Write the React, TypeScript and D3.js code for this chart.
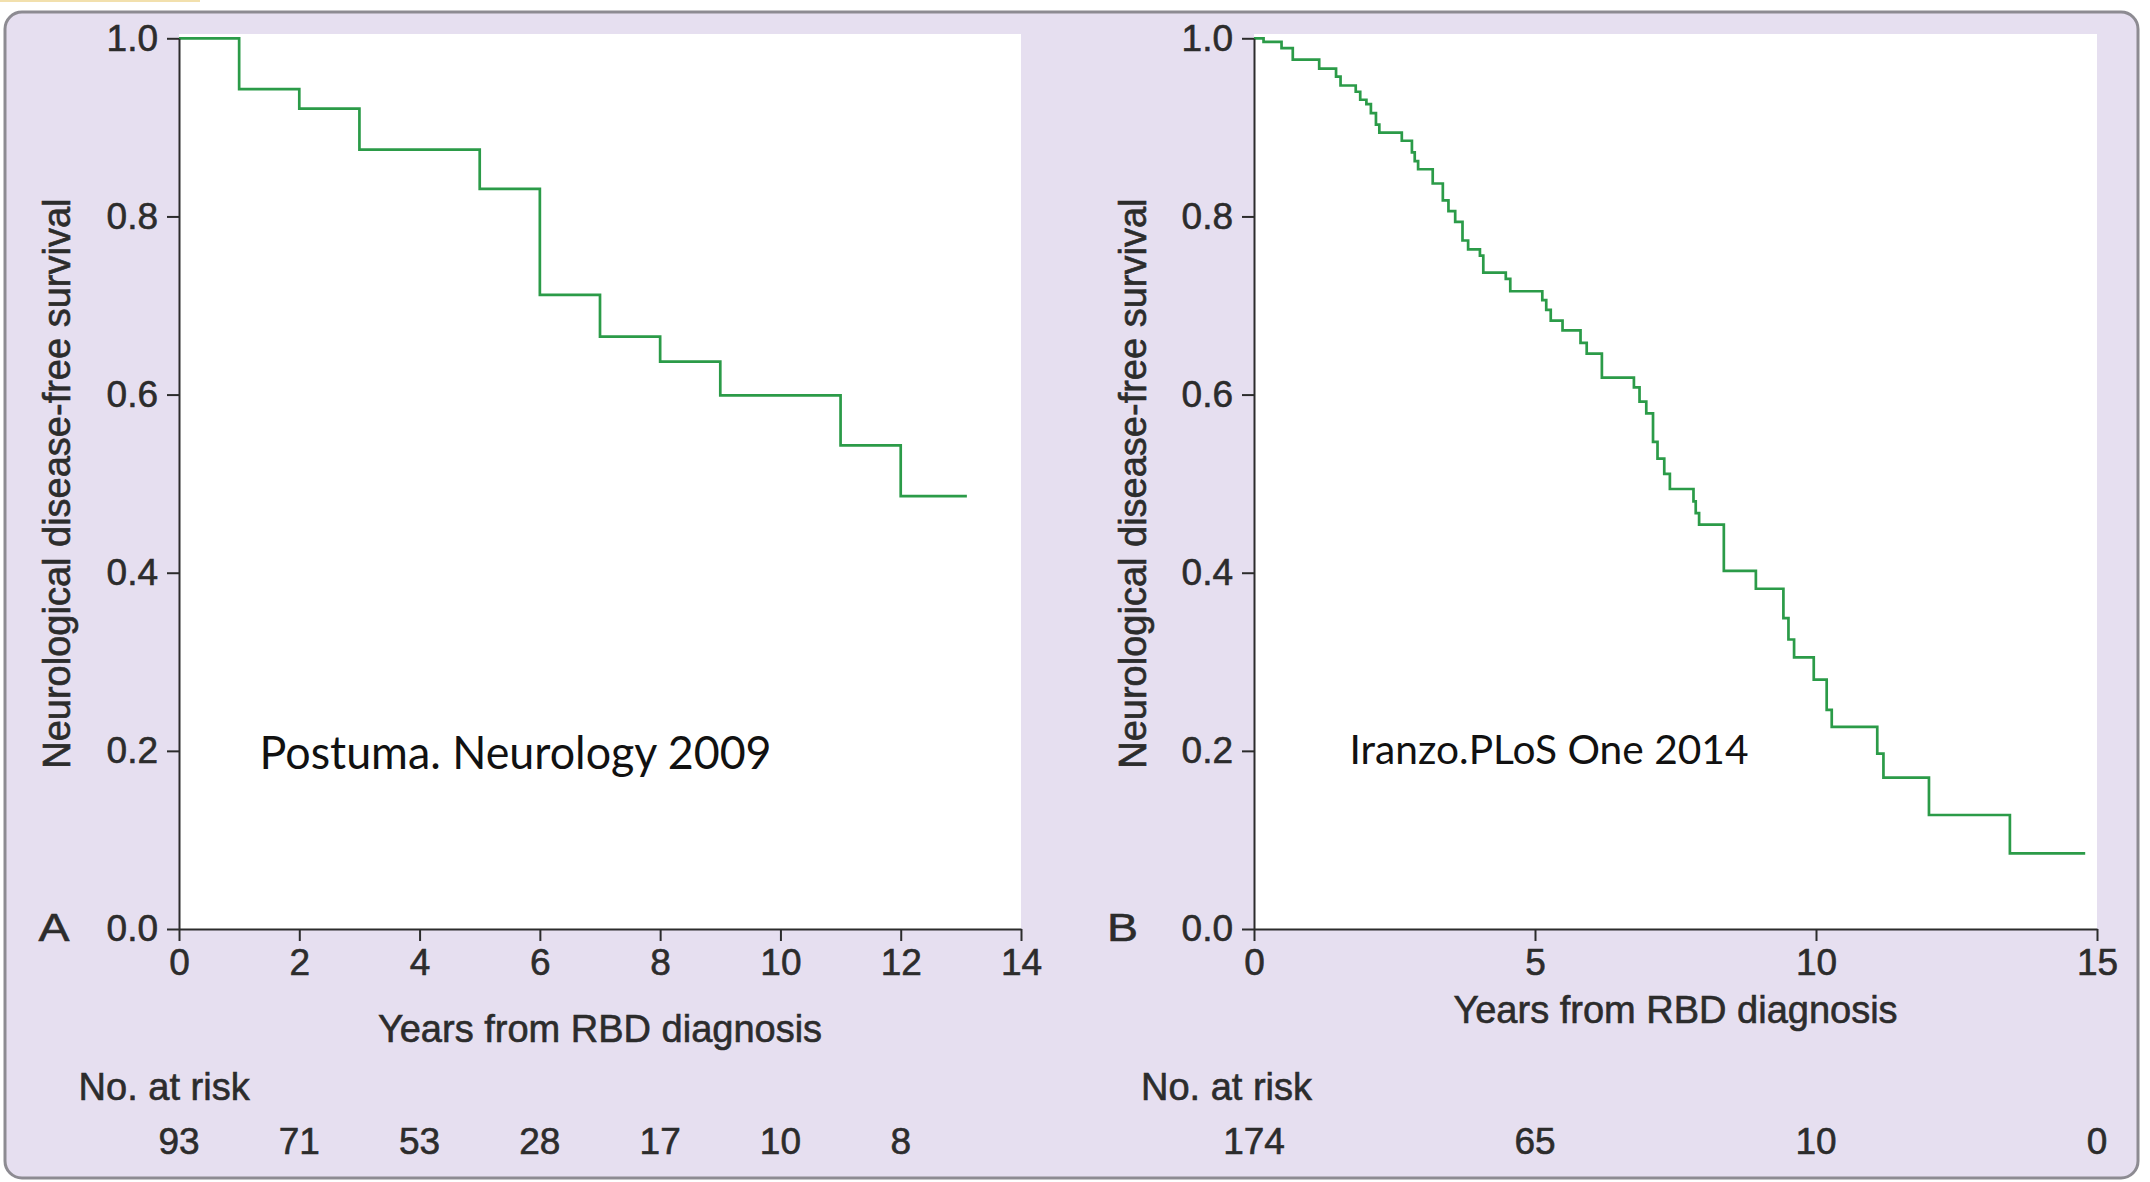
import React, { useEffect, useRef } from 'react';
import * as d3 from 'd3';

// --- values ---
// panel A (Postuma, Neurology 2009)
const LEFT_TIMES = [0, 1, 2, 3, 5, 6, 7, 8, 9, 11, 12];
const LEFT_SURVIVAL = [1.0, 0.943, 0.921, 0.875, 0.831, 0.712, 0.665, 0.637, 0.599, 0.543, 0.486];
const LEFT_END = 13.1;
const LEFT_X_TICKS = [0, 2, 4, 6, 8, 10, 12, 14];
const LEFT_RISK_AT = [0, 2, 4, 6, 8, 10, 12];
const LEFT_RISK = [93, 71, 53, 28, 17, 10, 8];

// panel B (Iranzo, PLoS One 2014)
const RIGHT_TIMES = [
  0, 0.17, 0.49, 0.69, 1.16, 1.46, 1.54, 1.81, 1.89, 2.0, 2.08, 2.17, 2.23, 2.63, 2.81, 2.86, 2.92,
  3.18, 3.36, 3.46, 3.58, 3.71, 3.81, 4.02, 4.08, 4.48, 4.56, 5.13, 5.2, 5.28, 5.49, 5.81, 5.92,
  6.19, 6.76, 6.86, 6.98, 7.1, 7.18, 7.3, 7.4, 7.82, 7.86, 7.92, 8.36, 8.93, 9.42, 9.51, 9.61,
  9.96, 10.19, 10.28, 11.09, 11.2, 12.01, 13.45,
];
const RIGHT_SURVIVAL = [
  1.0, 0.996, 0.989, 0.976, 0.966, 0.957, 0.947, 0.94, 0.931, 0.926, 0.916, 0.903, 0.894, 0.885,
  0.872, 0.862, 0.853, 0.837, 0.818, 0.806, 0.794, 0.773, 0.763, 0.756, 0.737, 0.73, 0.716, 0.706,
  0.695, 0.683, 0.672, 0.658, 0.646, 0.619, 0.608, 0.592, 0.579, 0.547, 0.528, 0.511, 0.494, 0.48,
  0.467, 0.454, 0.402, 0.382, 0.349, 0.325, 0.305, 0.28, 0.246, 0.227, 0.197, 0.17, 0.128, 0.085,
];
const RIGHT_END = 14.79;
const RIGHT_X_TICKS = [0, 5, 10, 15];
const RIGHT_RISK_AT = [0, 5, 10, 15];
const RIGHT_RISK = [174, 65, 10, 0];

const Y_TICKS = [0, 0.2, 0.4, 0.6, 0.8, 1.0];

const Y_TITLE = 'Neurological disease-free survival';
const X_TITLE = 'Years from RBD diagnosis';
const RISK_TITLE = 'No. at risk';

const FONT = '"Liberation Sans", Arial, Helvetica, sans-serif';
const NOTE_FONT = 'Lato, "Open Sans", sans-serif';
const TEXT = '#2c2c2c';
const GREEN = '#2b9b48';

const W = 2150;
const H = 1182;
const PLOT_TOP = 38.3; // y of 1.0
const PLOT_BOTTOM = 929; // y of 0.0

const panels = [
  {
    letter: 'A', times: LEFT_TIMES, surv: LEFT_SURVIVAL, end: LEFT_END, xMax: 14, xTicks: LEFT_X_TICKS,
    riskAt: LEFT_RISK_AT, risk: LEFT_RISK, left: 179, right: 1021,
    yTitleX: 70, letterX: 38.6, xTitleY: 1042, riskTitleX: 78.6,
    note: 'Postuma. Neurology 2009', noteX: 259.6, noteY: 769, noteSize: 46, noteWidth: 512,
  },
  {
    letter: 'B', times: RIGHT_TIMES, surv: RIGHT_SURVIVAL, end: RIGHT_END, xMax: 15, xTicks: RIGHT_X_TICKS,
    riskAt: RIGHT_RISK_AT, risk: RIGHT_RISK, left: 1254, right: 2097,
    yTitleX: 1146, letterX: 1107, xTitleY: 1023, riskTitleX: 1141,
    note: 'Iranzo.PLoS One 2014', noteX: 1349.5, noteY: 764, noteSize: 40, noteWidth: 399,
  },
];

const App = () => {
  const svgRef = useRef(null);

  useEffect(() => {
    document.body.style.margin = '0';
    if (!svgRef.current) return;
    const svg = d3.select(svgRef.current);
    svg.selectAll('*').remove();

    // page background + the rounded lavender card
    svg.append('rect').attr('width', W).attr('height', H).attr('fill', '#fff');
    svg.append('rect').attr('x', 0).attr('y', 0).attr('width', 200).attr('height', 2).attr('fill', '#f2e0ad');
    svg.append('rect')
      .attr('x', 5).attr('y', 12).attr('width', 2133).attr('height', 1166).attr('rx', 17)
      .attr('fill', '#e6dff0').attr('stroke', '#8d8b92').attr('stroke-width', 3);

    // slightly heavier glyphs, like the printed figure
    const heavy = (sel: any) => sel.attr('fill', TEXT).attr('stroke', TEXT).attr('stroke-width', 0.6);

    panels.forEach((p: any) => {
      const x = d3.scaleLinear().domain([0, p.xMax]).range([p.left, p.right]);
      const y = d3.scaleLinear().domain([0, 1]).range([PLOT_BOTTOM, PLOT_TOP]);

      // white plot area
      svg.append('rect')
        .attr('x', x(0)).attr('y', 34).attr('width', x(p.xMax) - x(0)).attr('height', PLOT_BOTTOM - 34)
        .attr('fill', '#fff');

      // survival curve
      const pts: [number, number][] = p.times.map((t: number, i: number) => [t, p.surv[i]]);
      pts.push([p.end, p.surv[p.surv.length - 1]]);
      const line = d3.line<[number, number]>().x(d => x(d[0])).y(d => y(d[1])).curve(d3.curveStepAfter);
      svg.append('path').attr('d', line(pts)).attr('fill', 'none').attr('stroke', GREEN)
        .attr('stroke-width', 2.7).attr('stroke-linejoin', 'miter');

      // axes
      const gx = svg.append('g').attr('transform', `translate(0,${y(0)})`)
        .call(d3.axisBottom(x).tickValues(p.xTicks).tickSize(12).tickSizeOuter(0).tickPadding(8).tickFormat(d3.format('d')));
      const gy = svg.append('g').attr('transform', `translate(${x(0)},0)`)
        .call(d3.axisLeft(y).tickValues(Y_TICKS).tickSize(12).tickSizeOuter(0).tickPadding(9).tickFormat(d3.format('.1f')));
      [gx, gy].forEach(g => {
        g.attr('font-family', FONT).attr('font-size', 37);
        g.select('.domain').attr('stroke', TEXT).attr('stroke-width', 2);
        g.selectAll('line').attr('stroke', TEXT).attr('stroke-width', 2);
        heavy(g.selectAll('text'));
      });

      // titles
      heavy(svg.append('text')
        .attr('transform', `translate(${p.yTitleX},${(PLOT_TOP + PLOT_BOTTOM) / 2}) rotate(-90)`)
        .attr('text-anchor', 'middle').attr('font-family', FONT).attr('font-size', 38))
        .text(Y_TITLE);
      heavy(svg.append('text')
        .attr('x', (x(0) + x(p.xMax)) / 2).attr('y', p.xTitleY)
        .attr('text-anchor', 'middle').attr('font-family', FONT).attr('font-size', 38))
        .text(X_TITLE);
      heavy(svg.append('text')
        .attr('x', p.letterX).attr('y', 941).attr('font-family', FONT).attr('font-size', 38)
        .attr('textLength', 31).attr('lengthAdjust', 'spacingAndGlyphs'))
        .text(p.letter);

      // number at risk
      heavy(svg.append('text')
        .attr('x', p.riskTitleX).attr('y', 1100).attr('font-family', FONT).attr('font-size', 38))
        .text(RISK_TITLE);
      heavy(svg.append('g').selectAll('text').data(p.risk).enter().append('text')
        .attr('x', (d: number, i: number) => x(p.riskAt[i])).attr('y', 1154)
        .attr('text-anchor', 'middle').attr('font-family', FONT).attr('font-size', 37))
        .text((d: number) => d);

      // source note
      svg.append('text')
        .attr('x', p.noteX).attr('y', p.noteY).attr('font-family', NOTE_FONT).attr('font-size', p.noteSize)
        .attr('textLength', p.noteWidth).attr('lengthAdjust', 'spacingAndGlyphs').attr('fill', '#111')
        .text(p.note);
    });
  }, []);

  return (
    <svg ref={svgRef} width={W} height={H} style={{ display: 'block', position: 'absolute', left: 0, top: 0 }} />
  );
};

export default App;
